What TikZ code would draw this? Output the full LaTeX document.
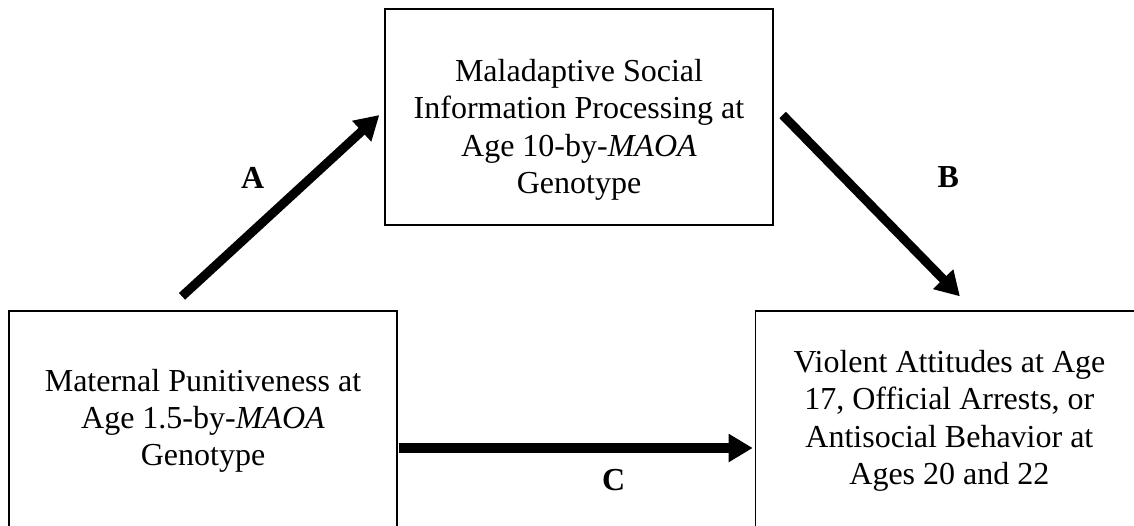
\documentclass[tikz,border=0pt]{standalone}
\usepackage{fontspec}
\setmainfont{Liberation Serif}
\usetikzlibrary{positioning,arrows.meta}

\begin{document}
\begin{tikzpicture}[
	x=0.375pt, y=-0.375pt,
	every node/.style={ align=center,
    					font=\fontsize{12}{14}\selectfont,
                        inner sep=0pt
                        },
	box/.style= {draw, line width=0.5pt,
    			  minimum width=145.5pt,
                  minimum height=82.5pt
    },
	link/.style={line width=3.4pt, -{Triangle[length=9pt,width=10pt]}},
	lbl/.style={font=\fontsize{12}{14}\selectfont\bfseries}
]
	\useasboundingbox (0,0) rectangle (1134,525);
    \clip (0,0) rectangle (1134,525);
	\node (punit) [box] at (203,421) {Maternal Punitiveness at\\ Age 1.5-by-\textit{MAOA}\\ Genotype};
    \node (violence) [box, right = 133.9pt of punit] {Violent Attitudes at Age\\ 17, Official Arrests, or\\ Antisocial Behavior at\\ Ages 20 and 22};
    \node (sip) [box, minimum height=81pt] at (579,117) {};
    \node (siptext) at ([shift={(0,13)}]sip.center) {Maladaptive Social\\ Information Processing at\\ Age 10-by-\textit{MAOA}\\ Genotype};
    \draw[link] ([shift={(-21,-14)}]punit.north) -- ([shift={(-5,-2)}]sip.west) node[lbl, midway, shift={(-28,-28)}] {A};
    \draw[link] ([shift={(9,-2)}]sip.east) -- ([shift={(10.5,-14)}]violence.north) node[lbl, midway, shift={(77,-29)}] {B};
    \draw[link] ([shift={(1,27)}]punit.east) -- ([shift={(-2,27)}]violence.west) node[lbl, midway, shift={(38,32)}] {C};
\end{tikzpicture}
\end{document}
